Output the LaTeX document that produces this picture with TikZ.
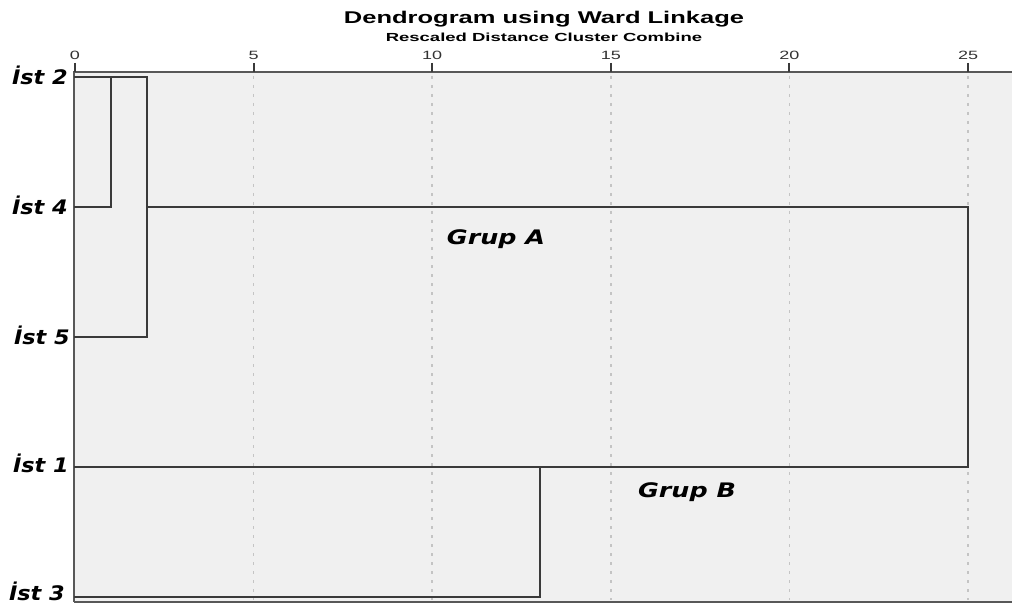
\documentclass[tikz,border=0pt]{standalone}
\usepackage{graphicx}
\usepackage{fontspec}
\newfontfamily\arialf{Liberation Sans}
\newfontfamily\labf{DejaVu Sans}
\definecolor{plotbg}{HTML}{F0F0F0}
\definecolor{dline}{HTML}{3A3A3A}
\definecolor{gridc}{HTML}{C4C4C4}
\tikzset{
  dendro/.style={draw=dline, line width=2pt, line cap=rect},
  axisline/.style={draw=dline!85, line width=1.8pt},
  gridline/.style={draw=gridc, line width=1.5pt, dash pattern=on 3pt off 6pt},
  leaflab/.style={anchor=base east, inner sep=0pt, font=\labf\bfseries\itshape\fontsize{20}{22}\selectfont},
  grouplab/.style={anchor=base, inner sep=0pt, font=\labf\bfseries\itshape\fontsize{20}{22}\selectfont},
  ticklab/.style={anchor=base, inner sep=0pt, font=\arialf\fontsize{12}{14}\selectfont, text=black!80},
}
\begin{document}
\begin{tikzpicture}[x=1pt,y=-1pt]
\useasboundingbox (0,0) rectangle (1012,604);
\fill[white] (0,0) rectangle (1012,604);
\fill[plotbg] (74,72) rectangle (1012,602);
% grid
\foreach \v in {5,10,15,20,25}{
  \draw[gridline] ({75+\v*35.72},76) -- ({75+\v*35.72},600);
}
% axes frame
\draw[axisline] (74,71.7) -- (1012,71.7);
\draw[axisline] (74,71) -- (74,602);
\draw[axisline] (74,602) -- (1012,602);
% ticks
\foreach \v in {0,5,10,15,20,25}{
  \draw[draw=dline, line width=2pt] ({75+\v*35.72},63) -- ({75+\v*35.72},71.7);
  \node[ticklab] (t\v) at ({75+\v*35.72},59.3) {\scalebox{1.5}[1]{\v}};
}
% titles
\node[anchor=base, inner sep=0pt, font=\arialf\bfseries\fontsize{17}{20}\selectfont] (title) at (544,24) {\scalebox{1.5}[1]{Dendrogram using Ward Linkage}};
\node[anchor=base, inner sep=0pt, font=\arialf\bfseries\fontsize{11.7}{14}\selectfont] (subtitle) at (544,41.7) {\scalebox{1.58}[1]{Rescaled Distance Cluster Combine}};
% leaf coordinates
\coordinate (l2) at (75,77);
\coordinate (l4) at (75,207);
\coordinate (l5) at (75,337);
\coordinate (l1) at (75,467);
\coordinate (l3) at (75,597);
\coordinate (m24) at (110.7,77);
\coordinate (m245) at (147,77);
\coordinate (m245b) at (147,207);
\coordinate (mA) at (968,207);
\coordinate (mB) at (540,467);
% leaf labels
\node[leaflab] (n2) at (68,84.3) {\scalebox{1.12}[1]{İst 2}};
\node[leaflab] (n4) at (68,214.3) {\scalebox{1.12}[1]{İst 4}};
\node[leaflab] (n5) at (70,344.3) {\scalebox{1.12}[1]{İst 5}};
\node[leaflab] (n1) at (69,472.3) {\scalebox{1.12}[1]{İst 1}};
\node[leaflab] (n3) at (65,600.3) {\scalebox{1.12}[1]{İst 3}};
% dendrogram
\draw[dendro] (l4) -| (m24);
\draw[dendro] (l2) -- (m245) |- (l5);
\draw[dendro] (m245b) -- (mA) |- (l1);
\draw[dendro] (mB) |- (l3);
% group labels
\node[grouplab] (gA) at (496,244) {\scalebox{1.27}[1]{Grup A}};
\node[grouplab] (gB) at (687,497.3) {\scalebox{1.27}[1]{Grup B}};
\end{tikzpicture}
\end{document}
